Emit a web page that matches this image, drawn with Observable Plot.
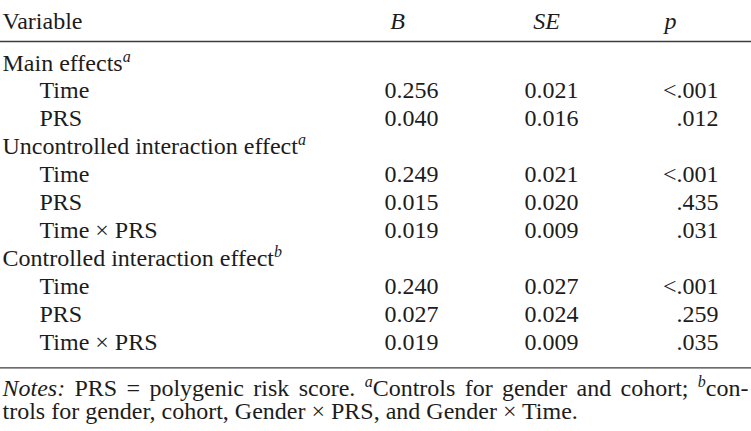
<!DOCTYPE html>
<html>
<head>
<meta charset="utf-8">
<script src="https://cdn.jsdelivr.net/npm/d3@7"></script>
<script src="https://cdn.jsdelivr.net/npm/@observablehq/plot@0.6"></script>
<style>
  html, body { margin: 0; padding: 0; background: #fff; }
  svg text { font-family: "Liberation Serif", "Times New Roman", serif !important; }
</style>
</head>
<body>
<div id="chart"></div>
<script>
// ---- data ----
const variables = [
  "Main effects^{a}", "Time", "PRS",
  "Uncontrolled interaction effect^{a}", "Time", "PRS", "Time × PRS",
  "Controlled interaction effect^{b}", "Time", "PRS", "Time × PRS"
];
const isGroup = [true, false, false, true, false, false, false, true, false, false, false];
const bValues = [null, 0.256, 0.040, null, 0.249, 0.015, 0.019, null, 0.240, 0.027, 0.019];
const seValues = [null, 0.021, 0.016, null, 0.021, 0.020, 0.009, null, 0.027, 0.024, 0.009];
const pValues = ["", "<.001", ".012", "", "<.001", ".435", ".031", "", "<.001", ".259", ".035"];
const headers = ["Variable", "B", "SE", "p"];
const notes = [
  "_{Notes:} PRS = polygenic risk score. ^{a}Controls for gender and cohort; ^{b}con-",
  "trols for gender, cohort, Gender × PRS, and Gender × Time."
];

// ---- layout ----
const W = 751, H = 431;
const FONT = "'Liberation Serif', 'Times New Roman', serif";
const FS = 24;
const INK = "#1c1c1c";
const colX = {Variable: 2, B: 438, SE: 578, p: 718};
const headX = {Variable: 2, B: 397, SE: 546, p: 670};
const rowY = {first: 70, last: 349}; // baselines of body rows
const headerRow = -1.5, notesRows = [11.68, 12.5];
const ruleRows = {top: -2.475, mid: -1.04, bottom: 10.66};

const body = variables.map((v, i) => ({
  row: i, label: v, group: isGroup[i],
  B: bValues[i] == null ? "" : bValues[i].toFixed(3),
  SE: seValues[i] == null ? "" : seValues[i].toFixed(3),
  p: pValues[i]
}));

function parseRich(s) {
  const segs = [];
  const re = /(\^\{([^}]*)\})|(_\{([^}]*)\})/g;
  let last = 0, m;
  while ((m = re.exec(s))) {
    if (m.index > last) segs.push({t: s.slice(last, m.index)});
    if (m[1]) segs.push({t: m[2], sup: true});
    else segs.push({t: m[4], ital: true});
    last = re.lastIndex;
  }
  if (last < s.length) segs.push({t: s.slice(last)});
  return segs;
}
function richRender(index, scales, values, dims, context, next) {
  const g = next(index, scales, values, dims, context);
  d3.select(g).selectAll("text").each(function () {
    const segs = parseRich(this.textContent);
    if (segs.length === 1 && !segs[0].sup && !segs[0].ital) return;
    const el = d3.select(this);
    el.text(null);
    let shifted = false;
    for (const s of segs) {
      const t = el.append("tspan").text(s.t);
      if (s.sup) {
        t.attr("font-style", "italic").attr("font-size", "16px").attr("dy", -9);
        shifted = true;
      } else {
        if (shifted) { t.attr("dy", 9); shifted = false; }
        if (s.ital) t.attr("font-style", "italic");
      }
    }
  });
  return g;
}

const yScale = {type: "linear", domain: [0, 10], range: [rowY.first, rowY.last]};
const xScale = {type: "ordinal", domain: headers, range: headers.map(h => colX[h])};

const headerData = headers.map(h => ({col: h, label: h}));
const common = {lineAnchor: "bottom", fill: INK, fontSize: FS, fontFamily: FONT};

const plot = Plot.plot({
  width: W, height: H,
  margin: 0,
  x: xScale, y: yScale,
  axis: null,
  style: {fontFamily: FONT, fontSize: FS + "px", background: "#fff", color: INK, overflow: "visible"},
  marks: [
    // rules
    Plot.ruleY([ruleRows.top], {stroke: "#3c3c3c", strokeWidth: 2.2, x1: 0, x2: W}),
    Plot.ruleY([ruleRows.mid, ruleRows.bottom], {stroke: "#3c3c3c", strokeWidth: 1.4}),
    // header
    Plot.text(headerData.filter(d => d.col === "Variable"), {
      ...common, x: "col", y: () => headerRow, text: "label", textAnchor: "start"
    }),
    Plot.text(headerData.filter(d => d.col !== "Variable"), {
      ...common, x: "col", y: () => headerRow, text: "label", textAnchor: "middle",
      fontStyle: "italic", className: "hdr"
    }),
    // body: labels
    Plot.text(body.filter(d => d.group), {
      ...common, x: () => "Variable", y: "row", text: "label", textAnchor: "start",
      render: richRender
    }),
    Plot.text(body.filter(d => !d.group), {
      ...common, x: () => "Variable", y: "row", text: "label", textAnchor: "start", dx: 37
    }),
    // numeric columns
    ...["B", "SE", "p"].map(c => Plot.text(body.filter(d => d[c] !== ""), {
      ...common, x: () => c, y: "row", text: c, textAnchor: "end"
    })),
    // notes
    Plot.text(notes.map((n, i) => ({n, i})), {
      ...common, x: () => "Variable", y: d => notesRows[d.i], text: "n", textAnchor: "start",
      className: "notes", render: richRender
    })
  ]
});

document.getElementById("chart").appendChild(plot);

// header labels B / SE / p are centred over their own header positions
d3.select(plot).selectAll(".hdr text").each(function () {
  const h = this.textContent;
  d3.select(this).attr("dx", headX[h] - colX[h]);
});

// justify the first notes line to the full width
d3.select(plot).selectAll(".notes text").each(function () {
  if (this.textContent.startsWith("Notes:")) {
    const len = this.getComputedTextLength();
    const spaces = (this.textContent.match(/ /g) || []).length;
    const target = 746;
    if (len < target && spaces) d3.select(this).attr("word-spacing", (target - len) / spaces);
  }
});
</script>
</body>
</html>
